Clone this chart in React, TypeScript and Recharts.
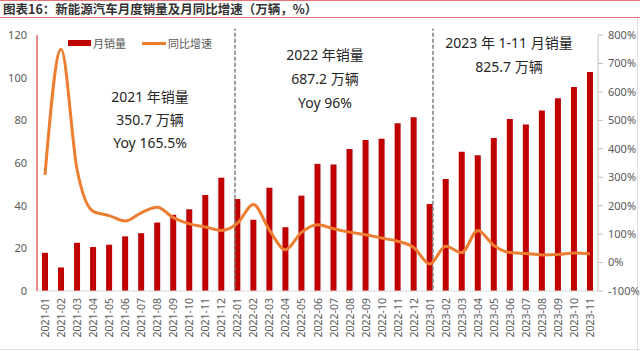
import { ComposedChart, Bar, Line, XAxis, YAxis, ReferenceLine } from 'recharts'

const months = [
  '2021-01', '2021-02', '2021-03', '2021-04', '2021-05', '2021-06', '2021-07', '2021-08', '2021-09', '2021-10', '2021-11', '2021-12',
  '2022-01', '2022-02', '2022-03', '2022-04', '2022-05', '2022-06', '2022-07', '2022-08', '2022-09', '2022-10', '2022-11', '2022-12',
  '2023-01', '2023-02', '2023-03', '2023-04', '2023-05', '2023-06', '2023-07', '2023-08', '2023-09', '2023-10', '2023-11',
]

// 月销量（万辆）
const sales = [
  17.9, 11.0, 22.6, 20.6, 21.7, 25.6, 27.1, 32.1, 35.7, 38.3, 45.0, 53.1,
  43.1, 33.4, 48.4, 29.9, 44.7, 59.6, 59.3, 66.6, 70.8, 71.4, 78.6, 81.4,
  40.8, 52.5, 65.3, 63.6, 71.7, 80.6, 78.0, 84.6, 90.4, 95.6, 102.6,
]

// 同比增速（%）
const yoy = [
  308, 750, 327, 180, 165, 146, 175, 194, 158, 136, 125, 113,
  138, 204, 114, 45, 106, 133, 119, 107, 98, 86, 75, 53,
  -5, 57, 35, 113, 60, 35, 32, 27, 28, 34, 31,
]

const leftTicks = [0, 20, 40, 60, 80, 100, 120]
const rightTicks = [-100, 0, 100, 200, 300, 400, 500, 600, 700, 800]
const yearBreaks = [12, 24]

const data = months.map((m, i) => ({ month: m, sales: sales[i], yoy: yoy[i] }))

const FONT = '"Noto Sans", "Noto Sans CJK SC", sans-serif'

function MonthTick({ x, y, payload }: any) {
  return (
    <g transform={`translate(${x},${y})`}>
      <text x={0} y={0} dy={4} textAnchor="end" transform="rotate(-90)" fill="#595959" fontSize={10.5}>
        {payload.value}
      </text>
    </g>
  )
}

const note = (left: number, top: number, lines: string[], gap: number) => (
  <div style={{ position: 'absolute', left: left - 100, top, width: 200, textAlign: 'center', fontSize: 14, color: '#262626', lineHeight: `${gap}px` }}>
    {lines.map(l => <div key={l}>{l}</div>)}
  </div>
)

export default function App() {
  return (
    <div style={{ position: 'absolute', left: 0, top: 0, width: 640, height: 351, background: '#fff', fontFamily: FONT, overflow: 'hidden' }}>
      <div style={{ position: 'absolute', left: 0, top: 0, width: 640, height: 1, background: '#E57373' }} />
      <div style={{ position: 'absolute', left: 3, top: 1, fontSize: 12.5, fontWeight: 700, color: '#333', fontFamily: '"Noto Sans CJK SC", sans-serif', lineHeight: '16px' }}>
        图表16：新能源汽车月度销量及月同比增速（万辆，%）
      </div>
      <div style={{ position: 'absolute', left: 0, top: 17, width: 640, height: 1, background: '#E57373' }} />
      <div style={{ position: 'absolute', left: 637, top: 18, width: 1, height: 333, background: '#E0E0E0' }} />
      <div style={{ position: 'absolute', left: 0, top: 349, width: 640, height: 1, background: '#E0E0E0' }} />

      <ComposedChart width={640} height={351} data={data} margin={{ top: 35, right: 0, bottom: 10, left: 0 }}>
        <XAxis dataKey="month" interval={0} height={50} tick={<MonthTick />} tickLine={false} axisLine={{ stroke: '#D9D9D9' }} tickSize={7} tickMargin={0} />
        <XAxis xAxisId="num" type="number" domain={[0, 35]} hide />
        <YAxis yAxisId="left" domain={[0, 120]} ticks={leftTicks} width={37} tickLine={false}
          axisLine={{ stroke: '#E06666', strokeWidth: 1.5 }} tick={{ fill: '#595959', fontSize: 11 }} tickMargin={4} />
        <YAxis yAxisId="right" orientation="right" domain={[-100, 800]} ticks={rightTicks} width={42}
          tickFormatter={(v: number) => `${v}%`} axisLine={{ stroke: '#BFBFBF' }} tickLine={{ stroke: '#BFBFBF' }}
          tickSize={5} tickMargin={5} tick={{ fill: '#595959', fontSize: 11 }} />
        {yearBreaks.map(b => (
          <ReferenceLine key={b} xAxisId="num" yAxisId="left" ifOverflow="visible"
            segment={[{ x: b, y: 1 }, { x: b, y: 123 }]} stroke="#7F7F7F" strokeWidth={1.5} strokeDasharray="4 2" />
        ))}
        <Bar yAxisId="left" dataKey="sales" fill="#C00000" barSize={6} isAnimationActive={false} />
        <Line yAxisId="right" dataKey="yoy" type="monotone" stroke="#ED7D31" strokeWidth={3} dot={false} isAnimationActive={false} />
      </ComposedChart>

      <div style={{ position: 'absolute', left: 68, top: 35, display: 'flex', alignItems: 'center', fontSize: 11, color: '#595959' }}>
        <span style={{ display: 'inline-block', width: 23, height: 6, background: '#C00000', marginRight: 2 }} />
        <span>月销量</span>
        <span style={{ display: 'inline-block', width: 24, height: 3, background: '#ED7D31', marginLeft: 16, marginRight: 2 }} />
        <span>同比增速</span>
      </div>

      {note(150, 85, ['2021 年销量', '350.7 万辆', 'Yoy 165.5%'], 23)}
      {note(325, 43, ['2022 年销量', '687.2 万辆', 'Yoy 96%'], 24)}
      {note(509, 31, ['2023 年 1-11 月销量', '825.7 万辆'], 24)}
    </div>
  )
}
